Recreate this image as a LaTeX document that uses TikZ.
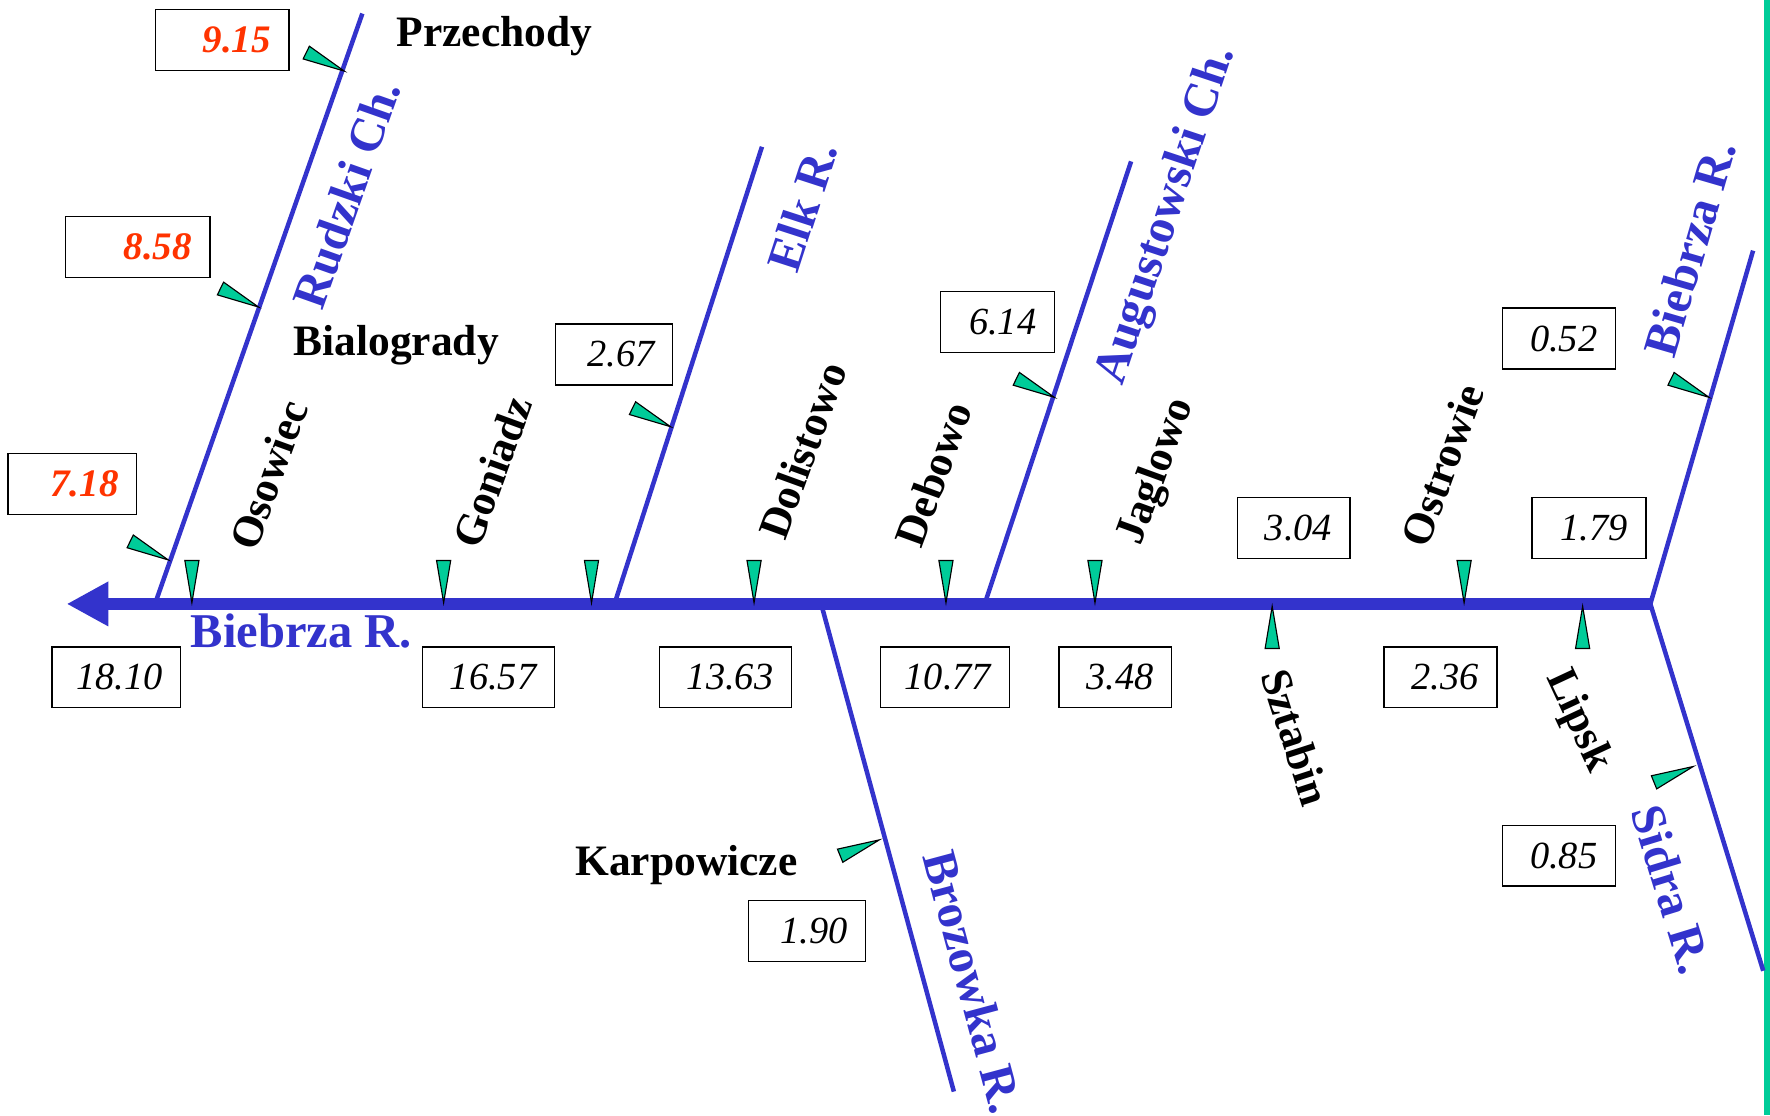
\documentclass[tikz,border=0pt]{standalone}
\usepackage{fontspec}
\setmainfont{Liberation Serif}
\usetikzlibrary{arrows.meta}

\definecolor{river}{RGB}{51,51,204}
\definecolor{gauge}{RGB}{0,204,153}
\definecolor{hot}{RGB}{255,51,0}

\tikzset{
  stream/.style={draw=river, line width=4pt},
  mainstream/.style={draw=river, line width=11pt},
  gaugemark/.style={fill=gauge, draw=black, line width=1pt, line join=miter},
  valbox/.style={draw=black, line width=1.2pt, minimum height=54pt,
    inner xsep=16pt, inner ysep=0pt, align=right,
    font=\fontsize{34}{36}\selectfont\itshape},
  hotval/.style={valbox, text=hot, font=\fontsize{34.5}{36}\selectfont\bfseries\itshape},
  place/.style={inner sep=0pt, font=\fontsize{38.5}{40}\selectfont\bfseries},
  rivername/.style={inner sep=0pt, text=river, font=\fontsize{43}{45}\selectfont\bfseries},
}

% gauge marker: tip at (#1,#2), body pointing along screen angle #3
\newcommand\gaugeat[3]{\draw[gaugemark] (#1,#2) -- +(#3+9.5:38) -- +(#3-9.5:38) -- cycle;}

\begin{document}
\begin{tikzpicture}[x=1pt,y=-1pt]
\useasboundingbox (0,0) rectangle (1568,988);

% right margin bar
\fill[gauge] (1562.5,0) rectangle (1568,988);

% river junctions and ends
\coordinate (mouth) at (59,535);
\coordinate (fork) at (1462,535);
\coordinate (rudzkiFoot) at (138,533);
\coordinate (rudzkiHead) at (321,12);
\coordinate (elkFoot) at (545,533);
\coordinate (elkHead) at (675,130);
\coordinate (augFoot) at (873,533);
\coordinate (augHead) at (1002,143);
\coordinate (upperHead) at (1553,222);
\coordinate (sidraEnd) at (1562,860);
\coordinate (brozFoot) at (728,537);
\coordinate (brozEnd) at (845,967);

% tributaries
\draw[stream] (rudzkiFoot) -- (rudzkiHead);
\draw[stream] (elkFoot) -- (elkHead);
\draw[stream] (augFoot) -- (augHead);
\draw[stream] (fork) -- (upperHead);
\draw[stream] (fork) -- (sidraEnd);
\draw[stream] (brozFoot) -- (brozEnd);

% main river with flow arrow
\draw[mainstream, -{Triangle[length=37pt,width=37pt]}] (fork) -- (mouth);

% gauges on the main river
\gaugeat{170}{534}{-90}
\gaugeat{393}{534}{-90}
\gaugeat{524}{534}{-90}
\gaugeat{668}{534}{-90}
\gaugeat{838}{534}{-90}
\gaugeat{970}{534}{-90}
\gaugeat{1297}{534}{-90}
\gaugeat{1127}{537}{90}
\gaugeat{1402}{537}{90}

% gauges on tributaries
\gaugeat{305}{63}{206}
\gaugeat{229}{272}{206}
\gaugeat{149}{496}{206}
\gaugeat{594}{378}{206}
\gaugeat{934}{352}{206}
\gaugeat{1514}{352}{206}
\gaugeat{1500}{679}{158}
\gaugeat{779}{744}{158}

% values
\node[hotval, text width=86pt] (v915) at (197,35.5) {9.15};
\node[hotval, text width=96pt] (v858) at (122,219) {8.58};
\node[hotval, text width=82pt] (v718) at (64,429) {7.18};
\node[valbox, text width=72pt] (v267) at (544,314) {2.67};
\node[valbox, text width=69pt] (v614) at (883.5,285) {6.14};
\node[valbox, text width=68pt] (v052) at (1381,300) {0.52};
\node[valbox, text width=68pt] (v304) at (1146,468) {3.04};
\node[valbox, text width=69pt] (v179) at (1407.5,468) {1.79};
\node[valbox, text width=82pt] (v1810) at (103,600) {18.10};
\node[valbox, text width=85pt] (v1657) at (432.5,600) {16.57};
\node[valbox, text width=85pt] (v1363) at (642.5,600) {13.63};
\node[valbox, text width=82pt] (v1077) at (837,600) {10.77};
\node[valbox, text width=68pt] (v348) at (988,600) {3.48};
\node[valbox, text width=68pt] (v236) at (1276,600) {2.36};
\node[valbox, text width=68pt] (v085) at (1381,758) {0.85};
\node[valbox, text width=72pt] (v190) at (715,825) {1.90};

% gauge station names
\node[place] (przechody) at (438,32) {Przechody};
\node[place] (bialogrady) at (351,306) {Bialogrady};
\node[place] (karpowicze) at (608,766) {Karpowicze};
\node[place, rotate=70] (osowiec) at (238,421) {Osowiec};
\node[place, rotate=70] (goniadz) at (436,418) {Goniadz};
\node[place, rotate=70] (dolistowo) at (711,399) {Dolistowo};
\node[place, rotate=70] (debowo) at (827,420) {Debowo};
\node[place, rotate=70] (jaglowo) at (1025,418) {Jaglowo};
\node[place, rotate=70] (ostrowie) at (1278,412) {Ostrowie};
\node[place, rotate=-72] (sztabin) at (1148,653) {Sztabin};
\node[place, rotate=-65] (lipsk) at (1398,639) {Lipsk};

% river names
\node[rivername] (biebrzaMain) at (267,559) {Biebrza R.};
\node[rivername, rotate=70.5] (rudzki) at (307,172) {Rudzki Ch.};
\node[rivername, rotate=72] (elk) at (711,183) {Elk R.};
\node[rivername, rotate=71.6] (august) at (1034,191) {Augustowski Ch.};
\node[rivername, rotate=73.8] (biebrzaUp) at (1497,220) {Biebrza R.};
\node[rivername, rotate=-73] (sidra) at (1481,788) {Sidra R.};
\node[rivername, rotate=-75] (brozowka) at (862,870) {Brozowka R.};
\end{tikzpicture}
\end{document}
